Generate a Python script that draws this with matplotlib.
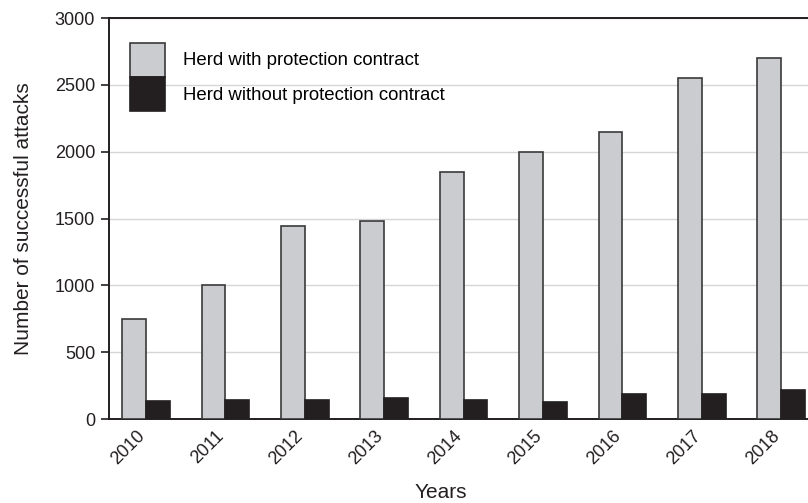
import matplotlib
matplotlib.use('Agg')
import matplotlib.pyplot as plt
import matplotlib.transforms as mtransforms
import numpy as np

plt.rcParams['font.family'] = ['Liberation Sans', 'DejaVu Sans']

years = ['2010', '2011', '2012', '2013', '2014', '2015', '2016', '2017', '2018']
with_contract = [750, 1000, 1445, 1480, 1845, 2000, 2150, 2550, 2700]
without_contract = [135, 145, 140, 155, 145, 127, 187, 187, 215]

gray = '#cbcccf'
dark = '#231f20'
edge = '#3a3a3a'

fig = plt.figure(figsize=(8.08, 5.03), dpi=100)
ax = fig.add_axes([109 / 808, 1 - 419 / 503, (808 - 109) / 808, 401 / 503])

x = np.arange(len(years))
w = 0.3
ax.bar(x - w / 2, with_contract, w, color=gray, edgecolor=edge, linewidth=1.2,
       label='Herd with protection contract', zorder=3)
ax.bar(x + w / 2, without_contract, w, color=dark, edgecolor=dark, linewidth=1.2,
       label='Herd without protection contract', zorder=3)

ax.set_xlim(-0.466, 8.338)
ax.set_ylim(0, 3000)
ax.set_yticks(np.arange(0, 3001, 500))
ax.yaxis.grid(True, color='#d6d6d6', linewidth=1.0, zorder=0)
ax.set_axisbelow(True)

ax.set_xticks(x)
ax.set_xticklabels(years, rotation=45, ha='right', rotation_mode='anchor')
ax.tick_params(axis='x', length=0, pad=6, labelsize=13, colors=dark)
ax.tick_params(axis='y', length=6, width=1.2, labelsize=13, colors=dark, pad=4)
# nudge the rotated year labels to the left
shift = mtransforms.ScaledTranslation(-10 / 100, 0, fig.dpi_scale_trans)
for lbl in ax.get_xticklabels():
    lbl.set_transform(lbl.get_transform() + shift)

for s in ['left', 'top', 'bottom']:
    ax.spines[s].set_color(dark)
    ax.spines[s].set_linewidth(1.4)
ax.spines['right'].set_visible(False)

ax.set_ylabel('Number of successful attacks', fontsize=15, color=dark, labelpad=15.5)
ax.set_xlabel('Years', fontsize=15, color=dark)
ax.xaxis.set_label_coords(0.474, -0.16)

ax.legend(loc='upper left', bbox_to_anchor=(121 / 808, 1 - 33.4 / 503),
          bbox_transform=fig.transFigure, frameon=False, borderpad=0,
          fontsize=13.4, handlelength=1.88, handleheight=2.44,
          labelspacing=0, handletextpad=0.95)

fig.savefig('out.png', dpi=100)
